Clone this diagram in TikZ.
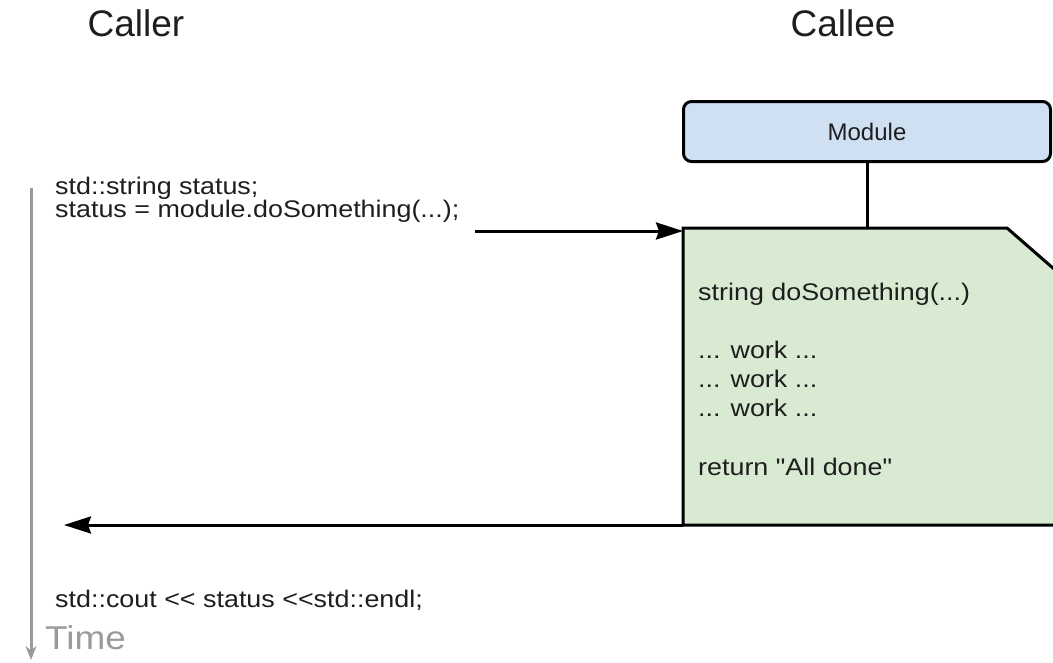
\documentclass[tikz,border=0pt]{standalone}
\usepackage{fontspec}
\setmainfont{Liberation Sans}[Ligatures={NoCommon,TeXOff}]
\usetikzlibrary{arrows.meta}
\definecolor{modblue}{HTML}{CFE0F3}
\definecolor{fngreen}{HTML}{D8EAD2}
\definecolor{timegray}{HTML}{9A9A9A}
\definecolor{ink}{HTML}{1E1E1E}
\begin{document}
\begin{tikzpicture}[x=1pt,y=-1pt,
  heading/.style={font=\fontsize{37}{40}\selectfont, text=ink, inner sep=0pt},
  code/.style={font=\fontsize{24}{28}\selectfont, text=ink, anchor=west, inner sep=0pt, xscale=1.12},
  modbox/.style={draw=black, line width=3pt, rounded corners=8pt, fill=modblue,
    minimum width=367pt, minimum height=60pt, inner sep=0pt,
    font=\fontsize{24}{28}\selectfont, text=ink},
  fnbox/.style={draw=black, line width=3pt, fill=fngreen, line join=miter},
  msg/.style={line width=3pt, -{Stealth[length=27pt,width=17pt,inset=3pt]}},
  timeline/.style={draw=timegray, line width=3pt, -{Stealth[length=14pt,width=11pt]}}]
\useasboundingbox (0,0) rectangle (1053,662);
\clip (0,0) rectangle (1053,662);

% column headings
\node[heading] (caller) at (136,23) {Caller};
\node[heading] (callee) at (843,23) {Callee};

% time axis
\coordinate (tstart) at (31,188);
\coordinate (tend) at (31,660);
\draw[timeline] (tstart) -- (tend);
\node[font=\fontsize{33}{36}\selectfont, text=timegray, anchor=west, inner sep=0pt, xscale=1.12] (timelbl) at (45,638) {Time};

% module and its function body
\node[modbox] (module) at (867,131.5) {Module};
\coordinate (fnTL) at (683,228);
\coordinate (fnBL) at (683,525);
\coordinate (fnTop) at (867,228);
\path[fnbox] (fnTL) -- (1007,228) -- (1100,309) -- (1100,525) -- (fnBL) -- cycle;
\draw[line width=3pt] (module.south) -- (fnTop);

\node[code] (sig) at (698,294) {string doSomething(...)};
\node[code] (w1) at (698,350) {... work ...};
\node[code] (w2) at (698,379) {... work ...};
\node[code] (w3) at (698,408) {... work ...};
\node[code] (ret) at (698,467) {return "All done"};

% caller side
\node[code] (decl) at (55,188) {std::string status;};
\node[code] (call) at (55,211) {status = module.doSomething(...);};
\node[code] (print) at (55,600) {std::cout << status <<std::endl;};

% call and return messages
\coordinate (callstart) at (475,231);
\coordinate (callend) at (683,231);
\coordinate (retend) at (64,525);
\draw[msg] (callstart) -- (callend);
\draw[msg] (fnBL) -- (retend);
\end{tikzpicture}
\end{document}
